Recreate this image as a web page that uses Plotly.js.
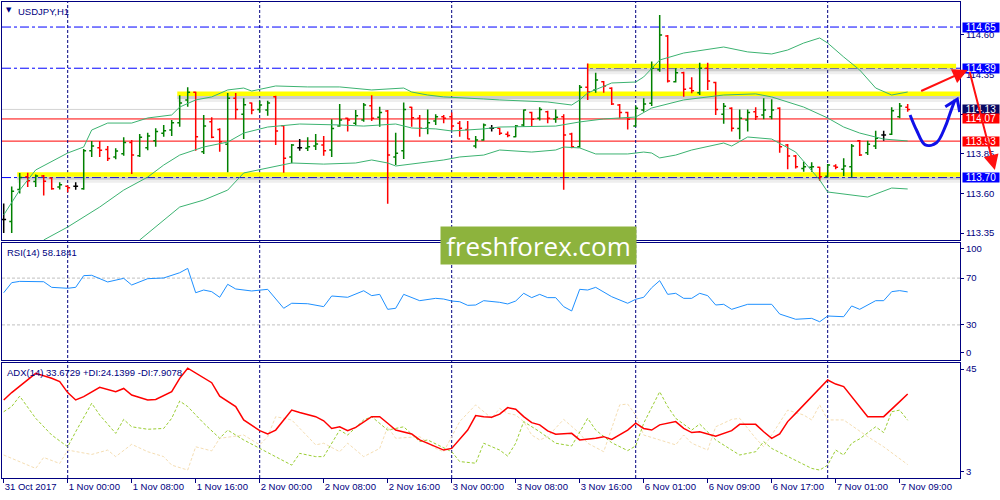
<!DOCTYPE html>
<html><head><meta charset="utf-8">
<script src="https://cdn.plot.ly/plotly-3.0.1.min.js"></script>
<style>html,body{margin:0;padding:0;background:#fff}#chart{width:1000px;height:500px}</style>
</head><body><div id="chart"></div>
<script>
// ---------- price bars (USDJPY H1), index 0 = 31 Oct 16:00 ----------
const barOpen  = [113.436,113.423,113.625,113.705,113.675,113.71,113.697,113.64,113.645,113.645,113.63,113.87,113.888,113.877,113.83,113.85,113.922,113.838,113.888,113.933,113.98,114.0,114.046,114.19,114.238,113.863,114.053,114.004,113.91,114.20,114.10,114.17,114.13,114.127,114.21,114.027,113.83,113.888,113.885,113.90,113.905,113.874,114.025,114.074,114.043,114.063,114.154,114.08,114.12,113.83,113.87,114.143,114.074,114.011,114.057,114.084,114.084,114.043,114.004,113.90,113.937,114.011,114.011,113.973,113.958,114.032,114.11,114.074,114.116,114.07,114.084,113.975,113.895,114.27,114.253,114.305,114.264,114.158,114.11,114.025,114.127,114.169,114.38,114.594,114.305,114.362,114.264,114.236,114.39,114.30,114.10,114.137,114.01,114.063,114.116,114.095,114.084,114.137,113.905,113.836,113.758,113.765,113.765,113.709,113.773,113.752,113.769,113.933,113.857,113.90,113.968,113.973,114.084,114.143];
const barHigh  = [113.537,113.644,113.729,113.73,113.72,113.716,113.70,113.67,113.65,113.67,113.88,113.93,113.93,113.90,113.885,113.955,113.937,113.975,113.983,114.011,114.032,114.063,114.22,114.27,114.242,114.095,114.08,114.011,114.233,114.233,114.20,114.173,114.185,114.185,114.217,114.032,113.912,113.944,113.955,113.975,113.962,114.068,114.164,114.078,114.127,114.17,114.22,114.147,114.127,113.983,114.173,114.147,114.095,114.13,114.10,114.095,114.11,114.057,114.057,113.962,114.042,114.032,114.015,113.99,114.032,114.13,114.116,114.143,114.122,114.13,114.10,113.983,114.284,114.42,114.362,114.31,114.27,114.164,114.116,114.154,114.20,114.432,114.726,114.60,114.39,114.368,114.333,114.425,114.425,114.305,114.17,114.144,114.13,114.13,114.143,114.20,114.194,114.143,113.912,113.842,113.80,113.796,113.769,113.786,113.784,113.822,113.912,113.937,113.933,113.996,113.996,114.143,114.17,114.164];
const barLow   = [113.35,113.35,113.60,113.64,113.64,113.587,113.623,113.625,113.608,113.623,113.623,113.83,113.83,113.805,113.815,113.838,113.722,113.83,113.873,113.895,113.958,113.962,114.02,114.147,113.87,113.849,113.948,113.863,113.734,114.068,113.944,114.10,114.11,114.09,113.905,113.73,113.79,113.87,113.868,113.874,113.838,113.83,114.02,113.99,114.032,114.053,114.057,114.02,113.535,113.78,113.817,114.02,113.958,113.973,114.032,114.043,114.0,113.958,113.942,113.885,113.933,113.99,113.968,113.955,113.955,114.021,114.025,114.06,114.043,114.046,113.623,113.885,113.888,114.19,114.235,114.236,114.158,114.074,114.004,114.021,114.116,114.152,114.368,114.30,114.30,114.21,114.232,114.221,114.253,114.095,114.04,113.99,113.942,113.99,114.063,114.068,114.068,113.857,113.752,113.758,113.737,113.737,113.68,113.702,113.752,113.71,113.70,113.836,113.842,113.88,113.933,113.968,114.074,114.116];
const barClose = [113.436,113.613,113.70,113.68,113.71,113.677,113.63,113.655,113.635,113.645,113.87,113.90,113.873,113.82,113.868,113.922,113.842,113.955,113.962,113.99,113.996,114.046,114.17,114.238,113.958,114.025,113.955,113.926,114.20,114.13,114.16,114.127,114.158,114.17,113.994,113.822,113.905,113.888,113.895,113.912,113.87,114.01,114.063,114.063,114.09,114.158,114.074,114.11,113.842,113.853,114.13,114.078,114.011,114.046,114.084,114.074,114.025,114.011,113.944,113.937,114.032,114.011,113.98,113.965,114.025,114.127,114.068,114.13,114.074,114.08,113.968,113.895,114.27,114.24,114.316,114.278,114.164,114.11,114.068,114.137,114.164,114.39,114.60,114.31,114.362,114.257,114.248,114.39,114.31,114.13,114.15,114.011,114.074,114.11,114.084,114.127,114.127,113.895,113.836,113.769,113.769,113.769,113.705,113.78,113.765,113.773,113.90,113.842,113.91,113.948,113.968,114.122,114.152,114.13];

// ---------- Bollinger Bands (read at selected bars) ----------
const bbUpperX = [0,2,4,8,10,11,13,16,18,21,22,24,26,28,30,31,34,38,42,46,50,51,53,55,60,62,68,71,72,73,76,79,80,82,85,86,90,93,96,98,100,102,103,105,107,109,111,113];
const bbUpperY = [113.464,113.621,113.748,113.855,113.893,114.0,114.044,114.044,114.076,114.095,114.145,114.19,114.209,114.253,114.265,114.246,114.278,114.272,114.272,114.253,114.265,114.24,114.221,114.209,114.196,114.19,114.177,114.158,114.19,114.234,114.297,114.303,114.335,114.442,114.486,114.493,114.524,114.493,114.48,114.505,114.549,114.581,114.549,114.461,114.379,114.265,114.221,114.24];
const bbMidX = [5,8,12,15,18,20,22,25,28,30,33,37,42,45,49,51,54,56,60,62,69,72,75,79,81,85,90,94,96,98,100,103,105,107,110,113];
const bbMidY = [113.306,113.388,113.514,113.621,113.703,113.779,113.842,113.893,113.924,113.981,114.019,114.038,114.032,114.025,114.038,114.013,114.007,113.994,114.007,114.019,114.025,114.051,114.070,114.082,114.139,114.19,114.221,114.228,114.209,114.177,114.145,114.076,114.019,113.981,113.943,113.931];
const bbLowX = [17,19,22,25,28,30,34,36,40,44,46,48,49,52,55,57,60,62,66,69,70,72,74,78,80,81,82,84,86,90,91,93,96,99,102,103,108,111,113];
const bbLowY = [113.306,113.388,113.514,113.558,113.621,113.729,113.773,113.792,113.785,113.792,113.811,113.792,113.773,113.792,113.811,113.830,113.842,113.874,113.861,113.874,113.893,113.887,113.849,113.849,113.861,113.855,113.824,113.842,113.874,113.918,113.899,113.956,113.943,113.861,113.685,113.609,113.577,113.634,113.628];

// ---------- RSI(14) ----------
const rsiX = [0,1,2,5,6,8,9,10,11,13,15,16,18,20,22,23,24,25,26,27,28,29,31,33,35,36,38,40,41,43,45,46,47,48,49,50,52,54,55,56,57,58,59,60,62,63,64,65,66,67,68,69,70,71,72,73,74,75,76,78,79,80,81,82,83,84,85,86,87,88,89,90,91,93,96,97,99,101,102,103,105,106,107,109,110,111,112,113];
const rsiVal = [57.5,66.1,67.2,66.9,62.1,61.3,62.1,72.1,72.4,66.7,69.8,64.1,69.5,70.1,74.6,78.3,57.5,59.8,58.4,53.6,64.7,60.7,59.0,60.4,44.2,48.5,48.1,45.6,54.7,53.6,59.2,55.0,56.1,43.3,44.2,56.1,50.7,52.7,52.1,50.4,49.8,46.7,47.0,50.7,49.3,47.9,50.4,57.0,53.3,56.1,53.3,53.3,45.6,41.9,60.4,59.8,62.1,58.4,54.1,48.5,51.9,53.6,61.8,67.8,56.1,57.0,52.7,52.7,57.0,55.0,47.0,47.6,43.3,47.6,47.6,39.3,34.8,35.6,32.7,37.6,37.0,46.2,43.3,50.7,50.7,58.4,59.3,58.2];
const rsiLevels = [70, 30];

// ---------- ADX(14) ----------
const adxX = [0,1,4,6,7,8,9,10,12,14,15,16,18,19,21,22,23,25,26,27,29,30,32,33,34,36,37,39,40,41,42,43,44,46,47,48,49,51,52,55,56,58,59,60,61,62,63,64,65,66,67,68,69,71,72,74,75,76,78,79,80,81,82,84,85,86,87,89,91,92,94,95,96,97,98,99,101,103,104,105,108,110,112,113];
const adxVal = [31.5,34.2,41.2,39.4,38.2,34.2,31.5,32.7,36.1,34.5,35.7,33.3,31.5,31.7,34.5,39.4,43.1,39.4,37.8,32.9,29.1,24.2,20.3,19.1,20.5,27.8,26.9,25.4,23.9,21.1,21.7,20.3,21.5,25.4,25.4,23.0,20.5,19.1,16.9,13.2,13.8,20.5,25.8,25.4,25.2,26.3,28.7,28.1,25.4,23.2,22.4,20.2,19.0,19.3,16.9,17.5,18.1,17.1,20.5,23.0,21.1,20.5,22.4,23.6,21.1,19.6,19.9,18.3,20.3,22.6,22.6,19.9,17.5,19.1,23.6,26.6,32.7,38.8,37.3,36.4,25.4,25.4,30.9,33.7];
const pdiX = [0,1,2,4,6,8,9,11,12,14,15,16,18,20,21,22,23,25,27,28,30,32,36,37,39,40,42,43,45,46,48,50,52,53,56,57,59,60,61,62,63,64,65,66,67,69,71,73,74,76,78,79,80,82,83,84,86,87,89,91,92,94,95,96,99,101,102,103,104,105,106,107,109,110,111,112,113];
const pdiVal = [27.2,29.1,32.9,24.8,18.7,14.4,19.9,30.3,26.0,19.3,24.4,21.7,20.8,21.1,24.8,31.1,29.1,23.0,17.5,20.5,16.9,13.8,7.7,12.0,10.8,10.8,20.5,18.7,24.2,25.4,20.5,21.7,16.3,16.9,12.6,9.0,8.4,15.7,14.4,13.2,11.0,15.7,23.6,21.7,19.9,15.7,14.7,24.8,20.5,15.9,13.0,14.7,23.0,34.5,29.1,24.8,20.5,22.7,16.9,13.2,11.4,12.6,16.3,13.8,9.6,6.5,5.9,7.7,13.2,11.4,15.7,17.3,21.7,19.6,27.2,27.8,24.1];
const mdiX = [0,2,4,5,7,8,11,13,14,16,18,20,21,23,24,26,27,30,32,33,34,36,39,40,42,43,45,47,48,49,52,54,55,57,59,61,62,63,64,65,66,67,68,70,72,73,75,77,78,79,80,82,84,85,86,88,89,91,92,94,95,96,98,100,101,102,103,105,108,110,113];
const mdiVal = [11.4,9.0,6.5,10.5,8.3,13.2,11.6,13.2,10.8,15.3,12.6,10.8,7.7,5.9,14.4,12.9,17.5,18.7,15.1,18.1,25.4,24.2,15.1,15.7,12.6,15.7,10.8,13.8,21.7,17.5,18.1,13.8,12.6,23.6,29.7,24.8,28.4,26.6,26.0,23.6,18.7,16.9,18.1,24.4,19.3,15.7,12.6,29.7,30.0,26.0,18.7,16.9,15.1,18.7,15.7,13.2,21.7,24.4,24.8,17.5,14.4,18.7,27.8,26.0,24.2,29.7,24.2,24.2,18.1,14.4,7.9];

// ---------- axes / labels ----------
const timeTickIdx = [0,8,16,24,32,40,48,56,64,72,80,88,96,104,112];
const timeTickText = ['31 Oct 2017','1 Nov 00:00','1 Nov 08:00','1 Nov 16:00','2 Nov 00:00','2 Nov 08:00','2 Nov 16:00','3 Nov 00:00','3 Nov 08:00','3 Nov 16:00','6 Nov 01:00','6 Nov 09:00','6 Nov 17:00','7 Nov 01:00','7 Nov 09:00'];
const daySeparators = [8,32,56,79,103];
const priceTicks = [114.60,114.35,114.10,113.85,113.60,113.35];
const priceTickText = ['114.60','114.35','','113.85','113.60','113.35']; // 114.10 sits hidden under the price tags
const rsiTickVals = [95,70,30,6], rsiTickText = ['100','70','30','0'];
const adxTickVals = [42.8,5.2], adxTickText = ['45','3'];

// ---------- drawn levels ----------
const blueLevels = [114.65, 114.39, 113.70];
const redLevels = [114.07, 113.93];
const bidLevel = 114.13;
const bandLevels = [114.39, 114.215, 113.705];
const bandStart = [72.9, 21.7, 1.7];
const bandEnd = [119.05, 119.54, 119.54];
const tagPrices = [114.65, 114.39, 114.13, 114.07, 113.93, 113.70];
const tagColors = ['#0000ff','#0000ff','#0a0a64','#ff0000','#ff0000','#0000ff'];
// analyst drawings [barIndex, price]
const redArrows = [ {from:[114.5,114.242], to:[120.5,114.379]}, {from:[120.7,114.378], to:[123.9,113.748]} ];
const bluePathX = [113.3,114.1,115.2,116.6,117.7,118.3,118.9];
const bluePathY = [114.095,114.0,113.906,113.92,114.021,114.106,114.19];
const blueHeadX = [117.7,119.2,119.5];
const blueHeadY = [114.147,114.194,114.114];

const NAVY = '#000080';
const FONT = "'Liberation Sans', Arial, sans-serif";
const xRange = [-0.2125, 119.54];
const yMain = [113.306, 114.808];
const MAIN_DOM = [0.5, 1], RSI_DOM = [0.2479, 0.4937], ADX_DOM = [0, 0.2416];
const M = {l:2, r:40, t:2, b:22};
const plotW = 1000 - M.l - M.r, plotH = 500 - M.t - M.b;
const pxPerBar = plotW / (xRange[1]-xRange[0]);
const pxPerPrice = plotH*(MAIN_DOM[1]-MAIN_DOM[0]) / (yMain[1]-yMain[0]);
const paperX = i => (i - xRange[0])/(xRange[1]-xRange[0]);
const paperY = p => MAIN_DOM[0] + (MAIN_DOM[1]-MAIN_DOM[0])*(p - yMain[0])/(yMain[1]-yMain[0]);

const idx = barOpen.map((_, i) => i);
const isDoji = idx.map(i => barOpen[i] === barClose[i]);
const pick = (arr, want) => arr.map((v, i) => isDoji[i] === want ? v : null);

const traces = [];
const bbStyle = {color:'#3cb371', width:1};
traces.push({type:'scatter', mode:'lines', x:bbUpperX, y:bbUpperY, line:bbStyle, hoverinfo:'skip', xaxis:'x', yaxis:'y'});
traces.push({type:'scatter', mode:'lines', x:bbMidX, y:bbMidY, line:bbStyle, hoverinfo:'skip', xaxis:'x', yaxis:'y'});
traces.push({type:'scatter', mode:'lines', x:bbLowX, y:bbLowY, line:bbStyle, hoverinfo:'skip', xaxis:'x', yaxis:'y'});
traces.push({type:'ohlc', x:idx, open:pick(barOpen,false), high:pick(barHigh,false), low:pick(barLow,false), close:pick(barClose,false),
  increasing:{line:{color:'#008000', width:1.5}}, decreasing:{line:{color:'#ff0000', width:1.5}}, tickwidth:0.3, hoverinfo:'skip', xaxis:'x', yaxis:'y'});
traces.push({type:'ohlc', x:idx, open:pick(barOpen,true), high:pick(barHigh,true), low:pick(barLow,true), close:pick(barClose,true),
  increasing:{line:{color:'#000000', width:1.5}}, decreasing:{line:{color:'#000000', width:1.5}}, tickwidth:0.3, hoverinfo:'skip', xaxis:'x', yaxis:'y'});
traces.push({type:'scatter', mode:'lines', x:bluePathX, y:bluePathY, line:{color:'#1010e8', width:3, shape:'spline'}, hoverinfo:'skip', xaxis:'x', yaxis:'y'});
traces.push({type:'scatter', mode:'lines', x:blueHeadX, y:blueHeadY, line:{color:'#1010e8', width:3}, hoverinfo:'skip', xaxis:'x', yaxis:'y'});
traces.push({type:'scatter', mode:'lines', x:rsiX, y:rsiVal, line:{color:'#1e90ff', width:1}, hoverinfo:'skip', xaxis:'x2', yaxis:'y2'});
traces.push({type:'scatter', mode:'lines', x:mdiX, y:mdiVal, line:{color:'#f5deb3', width:1, dash:'3px,2px'}, hoverinfo:'skip', xaxis:'x3', yaxis:'y3'});
traces.push({type:'scatter', mode:'lines', x:pdiX, y:pdiVal, line:{color:'#9acd32', width:1, dash:'3px,2px'}, hoverinfo:'skip', xaxis:'x3', yaxis:'y3'});
traces.push({type:'scatter', mode:'lines', x:adxX, y:adxVal, line:{color:'#ff0000', width:1.5}, hoverinfo:'skip', xaxis:'x3', yaxis:'y3'});

const shapes = [];
const px = 1/pxPerPrice;
bandLevels.forEach((lv, k) => {
  shapes.push({type:'rect', layer:'below', xref:'x', yref:'y', x0:bandStart[k], x1:bandEnd[k], y0:lv-6*px, y1:lv, fillcolor:'rgba(90,90,90,0.10)', line:{width:0}});
  shapes.push({type:'rect', layer:'below', xref:'x', yref:'y', x0:bandStart[k], x1:bandEnd[k], y0:lv-3*px, y1:lv, fillcolor:'rgba(90,90,90,0.22)', line:{width:0}});
  shapes.push({type:'rect', layer:'below', xref:'x', yref:'y', x0:bandStart[k], x1:bandEnd[k], y0:lv, y1:lv+4.5*px, fillcolor:'#ffff00', line:{width:0}});
});
blueLevels.forEach(lv => shapes.push({type:'line', layer:'below', xref:'paper', yref:'y', x0:0, x1:1, y0:lv, y1:lv, line:{color:'#0000ff', width:1, dash:'dashdot'}}));
redLevels.forEach(lv => shapes.push({type:'line', layer:'below', xref:'paper', yref:'y', x0:0, x1:1, y0:lv, y1:lv, line:{color:'#ff0000', width:1}}));
shapes.push({type:'line', layer:'below', xref:'paper', yref:'y', x0:0, x1:1, y0:bidLevel, y1:bidLevel, line:{color:'#d3d3d3', width:1}});
rsiLevels.forEach(lv => shapes.push({type:'line', layer:'below', xref:'paper', yref:'y2', x0:0, x1:1, y0:lv, y1:lv, line:{color:'#c0c0c0', width:1, dash:'3px,2px'}}));
daySeparators.forEach(d => shapes.push({type:'line', layer:'below', xref:'x', yref:'paper', x0:d, x1:d, y0:0, y1:1, line:{color:NAVY, width:1, dash:'3px,2px'}}));

const annotations = [];
tagPrices.forEach((p, k) => annotations.push({xref:'paper', yref:'y', x:(961.5-M.l)/plotW, y:p, xanchor:'left', yanchor:'middle',
  text:p.toFixed(2), showarrow:false, bgcolor:tagColors[k], width:36, height:9, borderpad:0, font:{family:FONT, size:10, color:'#ffffff'}}));
redArrows.forEach(a => annotations.push({xref:'paper', yref:'paper', x:paperX(a.to[0]), y:paperY(a.to[1]), text:'', showarrow:true,
  ax:(a.from[0]-a.to[0])*pxPerBar, ay:(a.to[1]-a.from[1])*pxPerPrice, arrowcolor:'#ff1010', arrowwidth:2, arrowhead:2, arrowsize:1.5, standoff:0}));
const paperYpx = y => (500 - M.b - y)/plotH;
annotations.push({xref:'paper', yref:'paper', x:(9-M.l)/plotW, y:paperYpx(10), text:'▼', showarrow:false, font:{family:'DejaVu Sans', size:7, color:NAVY}, xanchor:'center', yanchor:'middle'});
annotations.push({xref:'paper', yref:'paper', x:(16-M.l)/plotW, y:paperYpx(11), text:'USDJPY,H1', showarrow:false, font:{family:FONT, size:9.5, color:NAVY}, xanchor:'left', yanchor:'middle'});
annotations.push({xref:'paper', yref:'paper', x:(5-M.l)/plotW, y:paperYpx(252), text:'RSI(14) 58.1841', showarrow:false, font:{family:FONT, size:9.5, color:NAVY}, xanchor:'left', yanchor:'middle'});
annotations.push({xref:'paper', yref:'paper', x:(5-M.l)/plotW, y:paperYpx(372), text:'ADX(14) 33.6729 +DI:24.1399 -DI:7.9078', showarrow:false, font:{family:FONT, size:9.5, color:NAVY}, xanchor:'left', yanchor:'middle'});
annotations.push({xref:'paper', yref:'paper', x:(538.5-M.l)/plotW, y:paperYpx(245.5), text:'freshforex.com', showarrow:false, xanchor:'center', yanchor:'middle',
  bgcolor:'#8db33d', width:195, height:37, borderpad:0, font:{family:"'Open Sans', sans-serif", size:26, color:'#ffffff'}});

const tickFont = {family:FONT, size:9.5, color:NAVY};
const baseX = {range:xRange, showline:true, mirror:true, linecolor:NAVY, linewidth:1, showgrid:false, zeroline:false, fixedrange:true};
const baseY = {side:'right', showline:true, mirror:true, linecolor:NAVY, linewidth:1, showgrid:false, zeroline:false, ticks:'outside', ticklen:3, tickcolor:NAVY, tickfont:tickFont, fixedrange:true};

const layout = {
  width:1000, height:500, margin:M, paper_bgcolor:'#ffffff', plot_bgcolor:'#ffffff', showlegend:false, dragmode:false,
  xaxis: Object.assign({}, baseX, {anchor:'y', domain:[0,1], showticklabels:false, ticks:'', rangeslider:{visible:false}}),
  xaxis2: Object.assign({}, baseX, {anchor:'y2', domain:[0,1], showticklabels:false, ticks:''}),
  xaxis3: Object.assign({}, baseX, {anchor:'y3', domain:[0,1], tickmode:'array', tickvals:timeTickIdx, ticktext:timeTickText,
    ticks:'outside', ticklen:4, tickcolor:NAVY, ticklabelposition:'outside right', tickfont:tickFont, tickangle:0}),
  yaxis: Object.assign({}, baseY, {anchor:'x', domain:MAIN_DOM, range:yMain, tickmode:'array', tickvals:priceTicks, ticktext:priceTickText}),
  yaxis2: Object.assign({}, baseY, {anchor:'x2', domain:RSI_DOM, range:[0,100], tickmode:'array', tickvals:rsiTickVals, ticktext:rsiTickText}),
  yaxis3: Object.assign({}, baseY, {anchor:'x3', domain:ADX_DOM, range:[3,45], tickmode:'array', tickvals:adxTickVals, ticktext:adxTickText}),
  shapes, annotations
};
Plotly.newPlot('chart', traces, layout, {staticPlot:true, displayModeBar:false});
</script></body></html>
